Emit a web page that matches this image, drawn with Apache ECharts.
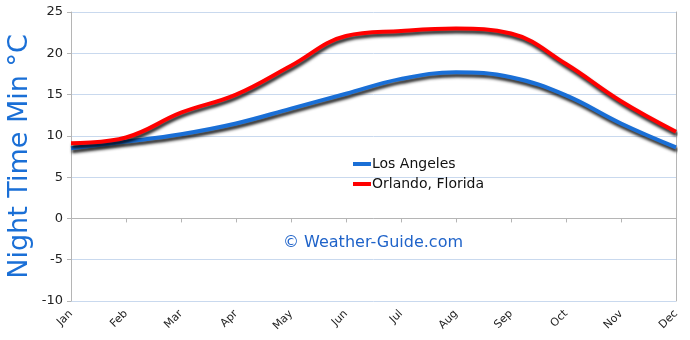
<!DOCTYPE html>
<html><head><meta charset="utf-8">
<script src="https://cdn.jsdelivr.net/npm/echarts@6/dist/echarts.min.js"></script>
<style>html,body{margin:0;padding:0;background:#fff}#c{width:690px;height:340px}</style>
</head><body><div id="c"></div>
<script>
var months = ['Jan','Feb','Mar','Apr','May','Jun','Jul','Aug','Sep','Oct','Nov','Dec'];
var losAngeles = [8.5, 9.3, 10.2, 11.5, 13.3, 15.1, 16.9, 17.7, 17.1, 14.9, 11.5, 8.6];
var orlando = [9.1, 9.8, 12.8, 15.0, 18.5, 22.1, 22.7, 23.0, 22.4, 18.7, 14.2, 10.5];
var seriesNames = ['Los Angeles', 'Orlando, Florida'];
var yTitle = 'Night Time Min °C';
var watermark = '© Weather-Guide.com';

var chart = echarts.init(document.getElementById('c'));
var shadow = {shadowColor:'rgba(0,0,0,0.85)', shadowBlur:3, shadowOffsetX:1, shadowOffsetY:3};
chart.setOption({
  animation:false,
  textStyle:{fontFamily:'"DejaVu Sans", sans-serif'},
  grid:{left:71, right:14, top:12, bottom:39, outerBoundsMode:'none', containLabel:false},
  legend:{
    orient:'vertical', left:348, top:152, itemGap:6,
    itemWidth:18, itemHeight:4, icon:'rect',
    textStyle:{color:'#111', fontSize:14, padding:[0,0,0,-4]},
    data:seriesNames
  },
  graphic:[{type:'text', left:283, top:235, style:{text:watermark, fill:'#1f63c9', font:'16px "DejaVu Sans", sans-serif'}}],
  xAxis:{
    type:'category', data:months, boundaryGap:false,
    axisLine:{lineStyle:{color:'#b5b5b5'}},
    axisTick:{show:true, length:4, lineStyle:{color:'#b5b5b5'}},
    axisLabel:{rotate:45, fontSize:11, color:'#222', margin:11, interval:0}
  },
  yAxis:[{
    type:'value', min:-10, max:25, interval:5,
    name:yTitle, nameLocation:'middle', nameGap:38, nameMoveOverlap:false,
    nameTextStyle:{color:'#1a6fd6', fontSize:27},
    axisLine:{show:true, lineStyle:{color:'#b5b5b5'}},
    axisTick:{show:true, length:4, lineStyle:{color:'#b5b5b5'}},
    axisLabel:{fontSize:13, color:'#222', margin:8},
    splitLine:{lineStyle:{color:'#c9d9ee'}}
  },{
    type:'value', min:-10, max:25, interval:5, position:'right',
    axisLine:{show:true, lineStyle:{color:'#b5b5b5'}},
    axisTick:{show:false}, axisLabel:{show:false}, splitLine:{show:false}
  }],
  series:[
    {name:seriesNames[0], type:'line', smooth:0.4, data:losAngeles, symbol:'none', color:'#1a6fd6',
     lineStyle:Object.assign({width:4, color:'#1a6fd6'}, shadow)},
    {name:seriesNames[1], type:'line', smooth:0.4, data:orlando, symbol:'none', color:'#ff0000',
     lineStyle:Object.assign({width:4, color:'#ff0000'}, shadow)}
  ]
});
</script></body></html>
